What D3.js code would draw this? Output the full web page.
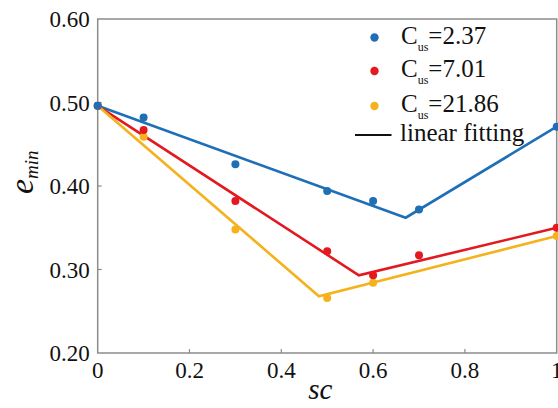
<!DOCTYPE html>
<html>
<head>
<meta charset="utf-8">
<script src="https://cdn.jsdelivr.net/npm/d3@7"></script>
</head>
<body style="margin:0; background:#fff">
<svg id="chart" width="558" height="408"></svg>
<script>
// data
var scValues = [0, 0.1, 0.3, 0.5, 0.6, 0.7, 1.0];
var eBlue = [0.496, 0.482, 0.426, 0.394, 0.382, 0.372, 0.471];
var eRed = [0.496, 0.467, 0.382, 0.322, 0.293, 0.317, 0.350];
var eYellowSc = [0, 0.1, 0.3, 0.5, 0.6, 1.0];
var eYellow = [0.496, 0.459, 0.348, 0.266, 0.284, 0.340];

// linear fitting (piecewise) vertices
var fitBlue = [[0, 0.496], [0.671, 0.362], [1.0, 0.471]];
var fitRed = [[0, 0.496], [0.569, 0.293], [1.0, 0.350]];
var fitYellow = [[0, 0.496], [0.482, 0.268], [1.0, 0.340]];

var xTicks = [0, 0.2, 0.4, 0.6, 0.8, 1];
var yTicks = [0.20, 0.30, 0.40, 0.50, 0.60];
var legendLabels = ["=2.37", "=7.01", "=21.86"];

var colors = ["#1f6fb7", "#e3191f", "#f4b21c"];
var FONT = "Liberation Serif";

var svg = d3.select("#chart");
var margin = { left: 97.7, right: 1.3, top: 19, bottom: 55 };
var W = 558, H = 408;

var x = d3.scaleLinear().domain([0, 1]).range([margin.left, W - margin.right]);
var y = d3.scaleLinear().domain([0.2, 0.6]).range([H - margin.bottom, margin.top]);

// frame
svg.append("rect")
  .attr("x", x(0)).attr("y", y(0.6))
  .attr("width", x(1) - x(0)).attr("height", y(0.2) - y(0.6))
  .attr("fill", "none").attr("stroke", "#8c8c8c").attr("stroke-width", 1.5);

// inward ticks
svg.append("g").selectAll("line").data(xTicks.slice(1, -1)).enter().append("line")
  .attr("x1", d => x(d)).attr("x2", d => x(d))
  .attr("y1", y(0.2)).attr("y2", y(0.2) - 4)
  .attr("stroke", "#8c8c8c").attr("stroke-width", 1.2);
svg.append("g").selectAll("line").data(yTicks.slice(1, -1)).enter().append("line")
  .attr("x1", x(0)).attr("x2", x(0) + 4)
  .attr("y1", d => y(d)).attr("y2", d => y(d))
  .attr("stroke", "#8c8c8c").attr("stroke-width", 1.2);

// tick labels
svg.append("g").selectAll("text").data(xTicks).enter().append("text")
  .attr("x", d => x(d)).attr("y", y(0.2) + 25)
  .attr("text-anchor", "middle").attr("fill", "#111")
  .style("font", "23px 'Liberation Serif'")
  .text(d => d3.format("~g")(d));
svg.append("g").selectAll("text").data(yTicks).enter().append("text")
  .attr("x", x(0) - 8).attr("y", d => y(d) + 8)
  .attr("text-anchor", "end").attr("fill", "#111")
  .style("font", "23px 'Liberation Serif'")
  .text(d => d.toFixed(2));

// axis titles
svg.append("text")
  .attr("x", x(0.485)).attr("y", 399)
  .attr("text-anchor", "middle").attr("fill", "#111")
  .style("font", "italic 29px 'Liberation Serif'")
  .text("sc");

var yTitle = svg.append("text")
  .attr("transform", "translate(33," + 194 + ") rotate(-90)")
  .attr("fill", "#111")
  .style("font", "italic 34px 'Liberation Serif'");
yTitle.append("tspan").text("e");
yTitle.append("tspan").style("font-size", "19px").attr("dy", 5).text("min");

// fitted lines
var line = d3.line().x(d => x(d[0])).y(d => y(d[1]));
[fitBlue, fitRed, fitYellow].forEach(function (fit, i) {
  svg.append("path").datum(fit)
    .attr("d", line)
    .attr("fill", "none")
    .attr("stroke", colors[i])
    .attr("stroke-width", 2.6);
});

// points (yellow first so the others sit on top)
var series = [
  { xs: eYellowSc, ys: eYellow, c: colors[2] },
  { xs: scValues, ys: eRed, c: colors[1] },
  { xs: scValues, ys: eBlue, c: colors[0] }
];
series.forEach(function (s) {
  svg.append("g").selectAll("circle").data(s.ys).enter().append("circle")
    .attr("cx", (d, i) => x(s.xs[i]))
    .attr("cy", d => y(d))
    .attr("r", 4)
    .attr("fill", s.c);
});

// legend
var legend = svg.append("g");
var legY = [37.5, 71, 106];
legendLabels.forEach(function (lab, i) {
  legend.append("circle").attr("cx", 374.5).attr("cy", legY[i]).attr("r", 4.2).attr("fill", colors[i]);
  var t = legend.append("text").attr("x", 401).attr("y", legY[i] + 6)
    .attr("fill", "#111").style("font", "25px 'Liberation Serif'");
  t.append("tspan").text("C");
  t.append("tspan").style("font-size", "12px").attr("dy", 7).text("us");
  t.append("tspan").attr("dy", -7).text(lab);
});
legend.append("line")
  .attr("x1", 355).attr("x2", 391.5).attr("y1", 135).attr("y2", 135)
  .attr("stroke", "#111").attr("stroke-width", 2);
legend.append("text").attr("x", 400).attr("y", 141)
  .attr("fill", "#111").style("font", "25px 'Liberation Serif'").text("linear fitting");
</script>
</body>
</html>
